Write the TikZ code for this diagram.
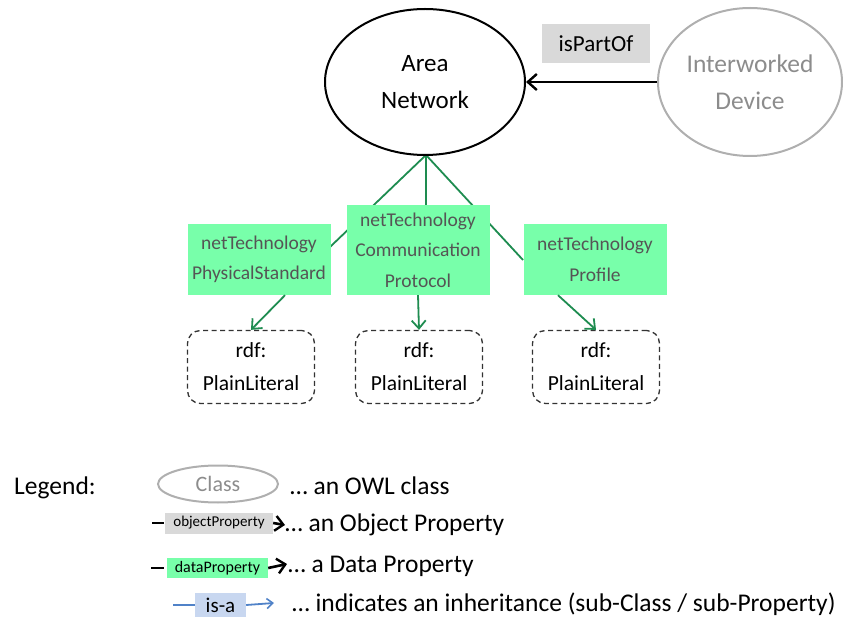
\documentclass[tikz,border=0pt]{standalone}
\usepackage{fontspec}
\setmainfont{Carlito}
\usetikzlibrary{arrows.meta,shapes.geometric,calc}
\definecolor{dgreen}{RGB}{30,140,80}
\definecolor{lgreen}{RGB}{120,255,170}
\definecolor{pgray}{RGB}{217,217,217}
\definecolor{cgray}{RGB}{175,175,175}
\definecolor{tgray}{RGB}{140,140,140}
\definecolor{btext}{RGB}{85,85,85}
\definecolor{isablue}{RGB}{80,130,200}
\definecolor{isafill}{RGB}{200,215,240}
\begin{document}
\begin{tikzpicture}[x=1pt,y=-1pt,
  cls/.style={ellipse, draw, line width=2pt, align=center, inner sep=0pt, font=\fontsize{25}{37}\selectfont},
  dprop/.style={fill=lgreen, draw=none, align=center, text=btext, minimum width=143pt, inner sep=0pt, font=\fontsize{19.5}{30.5}\selectfont},
  lit/.style={draw=black!80, dash pattern=on 5pt off 3.5pt, line width=1.3pt, rounded corners=13pt, align=center, minimum width=127pt, minimum height=73pt, inner sep=0pt, font=\fontsize{21.5}{33}\selectfont},
  gline/.style={draw=dgreen, line width=1.8pt},
  garrow/.style={gline, -{Straight Barb[length=8pt,width=14pt,line width=1.8pt]}},
  barb/.style={-{Straight Barb[length=8pt,width=15pt,line width=2.4pt]}},
  legtext/.style={anchor=west, inner sep=0pt, font=\fontsize{25.5}{30}\selectfont}]
\useasboundingbox (0,0) rectangle (843,617);

% green connectors first (behind the boxes)
\coordinate (apex) at (426,155);
\coordinate (psr) at (330,247);
\coordinate (prl) at (523,260);
\draw[gline] (apex) -- (psr);
\draw[gline] (apex) -- (426,206);
\draw[gline] (apex) -- (prl);

% classes
\node[cls, minimum width=200pt, minimum height=146pt] (an) at (425,82) {Area\\Network};
\node[cls, draw=cgray, text=tgray, minimum width=184pt, minimum height=148pt, font=\fontsize{25.5}{37}\selectfont] (iw) at (750,82) {Interworked\\Device};
\draw[line width=2.4pt, -{Straight Barb[length=9pt,width=16pt,line width=2.4pt]}] (iw.west) -- (an.east);
\node[fill=pgray, minimum width=108pt, minimum height=39pt, inner sep=0pt, font=\fontsize{23}{26}\selectfont] (ipo) at (596,44) {isPartOf};

% data properties
\node[dprop, minimum height=71pt] (ps) at (259,259.5) {netTechnology\\PhysicalStandard};
\node[dprop, minimum height=90pt] (cp) at (418,250) {netTechnology\\Communication\\Protocol};
\node[dprop, minimum height=71pt] (pr) at (595,259.5) {netTechnology\\Profile};

% literals
\node[lit] (l1) at (251,367) {rdf:\\PlainLiteral};
\node[lit] (l2) at (419,367) {rdf:\\PlainLiteral};
\node[lit] (l3) at (596,367) {rdf:\\PlainLiteral};

\draw[garrow] ([xshift=26pt]ps.south) -- (l1.north);
\draw[garrow] (cp.south) -- (l2.north);
\draw[garrow] ([xshift=-37pt]pr.south) -- (l3.north);

% legend
\node[legtext] (lg) at (14,488) {Legend:};
\node[ellipse, draw=cgray, line width=2pt, text=tgray, minimum width=120pt, minimum height=37pt, inner sep=0pt, font=\fontsize{22}{26}\selectfont] (lc) at (218,484) {Class};
\node[legtext] (t1) at (290,486) {… an OWL class};

\node[fill=pgray, minimum width=108pt, minimum height=21pt, inner sep=0pt, font=\fontsize{15}{17}\selectfont] (lo) at (219,523) {objectProperty};
\coordinate (lo0) at (152,523);
\draw[line width=2.6pt] (lo0) -- ++(12,0);
\node[legtext] (t2) at (285,525) {… an Object Property};
\draw[line width=2.6pt, barb] (lo.east) -- (t2.west);

\node[fill=lgreen, minimum width=101pt, minimum height=20pt, inner sep=0pt, font=\fontsize{16}{18}\selectfont] (ld) at (217.5,568) {dataProperty};
\coordinate (ld0) at (151,568);
\draw[line width=2.6pt] (ld0) -- ++(13,0);
\node[legtext] (t3) at (288,566) {… a Data Property};
\draw[line width=2.6pt, barb] (ld.east) -- ([xshift=-1pt,yshift=2pt]t3.west);

\node[fill=isafill, minimum width=51pt, minimum height=24pt, inner sep=0pt, font=\fontsize{21}{24}\selectfont] (li) at (220.5,605) {is-a};
\coordinate (li0) at (173,605);
\draw[isablue, line width=1.8pt] (li0) -- (li.west);
\node[legtext] (t4) at (292,604) {… indicates an inheritance (sub-Class / sub-Property)};
\draw[isablue, line width=1.8pt, -{Straight Barb[length=6pt,width=10pt,line width=1.6pt]}] (li.east) -- ([xshift=-18pt,yshift=1pt]t4.west);
\end{tikzpicture}
\end{document}
